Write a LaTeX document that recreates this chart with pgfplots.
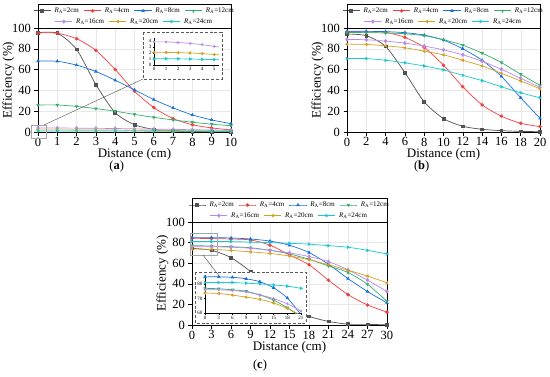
\documentclass[border=0pt]{standalone}
\usepackage{fontspec}
\setmainfont{Liberation Serif}
\usepackage{pgfplots}
\usepackage{pgfplotstable}
\pgfplotsset{compat=1.18}

\definecolor{c2}{HTML}{515151}
\definecolor{c4}{HTML}{F14040}
\definecolor{c8}{HTML}{1A6FDF}
\definecolor{c12}{HTML}{37AD6B}
\definecolor{c16}{HTML}{B98AE6}
\definecolor{c20}{HTML}{D4A020}
\definecolor{c24}{HTML}{18C8CC}

\pgfplotstableread{
x r2 r4 r8 r12 r16 r20 r24
0 95.5 95.2 68.2 26.0 3.8 2.05 1.0
1 95.0 95.0 68.0 26.0 3.8 2.05 1.0
2 79.4 89.7 64.3 24.6 3.7 2.0 0.98
3 45.6 78.5 58.2 22.5 3.55 1.95 0.95
4 18.6 60.1 49.8 20.0 3.35 1.85 0.9
5 7.0 39.2 40.5 16.9 3.05 1.7 0.85
6 2.5 23.5 31.2 14.1 2.8 1.55 0.78
7 1.0 12.9 23.2 11.6 2.5 1.4 0.7
8 0.5 7.0 16.4 9.4 2.2 1.25 0.62
9 0.3 3.9 11.6 7.5 1.9 1.1 0.55
10 0.2 2.0 8.0 6.0 1.65 0.95 0.48
}\tA

\pgfplotstableread{
x r2 r4 r8 r12 r16 r20 r24
0 94.2 96.5 96.8 95.8 89.0 84.5 70.6
2 92.6 96.2 96.8 95.5 88.7 84.2 70.6
4 82.3 95.8 96.5 95.2 87.4 82.9 69.0
6 57.1 91.0 95.5 94.5 85.5 81.0 66.5
8 29.0 81.3 93.2 92.6 82.6 77.7 63.5
10 12.9 64.2 88.4 88.7 79.0 74.2 59.7
12 5.5 43.5 80.0 83.5 74.2 69.0 54.5
14 2.6 26.1 69.0 75.8 68.0 63.5 49.4
16 1.3 15.2 53.5 66.8 60.3 56.5 43.5
18 0.6 8.4 32.9 55.5 51.6 49.0 37.7
20 0.3 5.2 13.2 44.8 42.9 41.6 32.9
}\tB

\pgfplotstableread{
x r2 r4 r8 r12 r16 r20 r24
0 74.4 84.2 84.8 77.0 76.0 73.8 81.0
3 72.5 83.9 84.8 76.7 76.0 73.5 81.0
6 65.4 83.5 84.5 76.0 75.5 72.4 81.0
9 51.8 82.6 83.5 75.0 74.5 71.0 80.5
12 33.0 77.5 81.5 72.5 72.5 69.5 80.0
15 17.0 68.0 77.4 69.0 70.0 67.0 79.3
18 8.4 58.5 70.4 63.8 66.5 63.4 78.5
21 3.5 43.5 59.0 57.3 61.5 58.5 77.0
24 0.8 29.5 45.0 51.0 53.5 53.2 75.5
27 0.6 19.5 32.5 39.5 43.5 47.5 72.5
30 0.2 12.5 21.5 23.0 32.5 41.0 69.0
}\tC

\newcommand{\RA}[1]{\textit{R}\textsubscript{A}=#1cm}

\pgfplotsset{
  ser/.style={line width=0.7pt, mark size=1.4pt, smooth, tension=0.45},
  sA/.style={ser, c2, mark=square*},
  sB/.style={ser, c4, mark=*},
  sC/.style={ser, c8, mark=triangle*},
  sD/.style={ser, c12, mark=triangle*, mark options={rotate=180}},
  sE/.style={ser, c16, mark=diamond*, mark size=1.7pt},
  sF/.style={ser, c20, mark=triangle*, mark options={rotate=90}},
  sG/.style={ser, c24, mark=triangle*, mark options={rotate=-90}},
  legsty/.style={legend style={draw=none, fill=none, inner sep=0pt,
      font=\fontsize{7}{8}\selectfont,
      /tikz/every odd column/.append style={column sep=1.5pt},
      /tikz/every even column/.append style={column sep=2.8pt}},
      legend cell align=left},
  mainax/.style={
    scale only axis, width=193pt, height=104pt,
    ymin=0, ymax=100, ytick={0,20,40,60,80,100},
    axis line style={line width=0.6pt},
    tick align=outside, tick pos=left,
    major tick length=3.5pt,
    every tick/.style={black, line width=0.6pt},
    xmajorgrids, ymajorgrids, grid style={gray!18, line width=0.4pt},
    tick label style={font=\fontsize{12.5}{12.5}\selectfont},
    xticklabel style={inner sep=2pt},
    label style={font=\fontsize{13}{13}\selectfont},
    xlabel={Distance (cm)}, ylabel={Efficiency (\%)},
    xlabel style={yshift=3pt}, ylabel style={yshift=-9pt},
    /pgf/number format/assume math mode=true,
    legsty, legend columns=4,
    legend style={at={(0.5,1.165)}, anchor=center},
  },
  legax/.style={
    scale only axis, width=193pt, height=104pt, hide axis,
    xmin=0, xmax=1, ymin=0, ymax=1, legsty, legend columns=3,
    legend style={at={(0.5,1.062)}, anchor=center},
  },
  insax/.style={
    scale only axis, axis x line=bottom, axis y line=left,
    axis line style={-, line width=0.4pt, black},
    tick align=outside, major tick length=1.5pt,
    every tick/.style={black, line width=0.3pt},
    tick label style={font=\fontsize{5}{5}\selectfont, inner sep=1pt},
    /pgf/number format/assume math mode=true,
    every axis plot/.append style={line width=0.4pt, mark size=0.8pt},
  },
}

\begin{document}
\begin{tikzpicture}
\useasboundingbox (0pt,0pt) rectangle (550pt,376pt);

% ---------------- (a) ----------------
\begin{axis}[mainax, at={(38pt,244pt)}, anchor=south west,
  xmin=0, xmax=10, xtick={0,1,...,10}]
\addplot[sA] table[x=x,y=r2]{\tA};
\addplot[sB] table[x=x,y=r4]{\tA};
\addplot[sC] table[x=x,y=r8]{\tA};
\addplot[sD] table[x=x,y=r12]{\tA};
\addplot[sE] table[x=x,y=r16]{\tA};
\addplot[sF] table[x=x,y=r20]{\tA};
\addplot[sG] table[x=x,y=r24]{\tA};
\legend{\RA{2},\RA{4},\RA{8},\RA{12}}
\end{axis}
\begin{axis}[legax, at={(38pt,244pt)}, anchor=south west]
\addlegendimage{sE}\addlegendentry{\RA{16}}
\addlegendimage{sF}\addlegendentry{\RA{20}}
\addlegendimage{sG}\addlegendentry{\RA{24}}
\end{axis}
\draw[line width=0.6pt] (38pt,348pt) rectangle (231pt,372pt);
\draw[gray!70, line width=0.4pt] (31pt,251pt) rectangle (46pt,238pt);
\draw[gray!60!black, line width=0.4pt] (44pt,251pt) -- (143pt,297pt);
\draw[gray!70!black, dash pattern=on 3pt off 1.8pt, line width=0.6pt, fill=white] (143pt,344pt) rectangle (222pt,297pt);
\begin{axis}[insax, at={(154pt,311.3pt)}, anchor=south west, width=65pt, height=27pt,
  xmin=0, xmax=5.4, ymin=0, ymax=4.5, xtick={0,...,5}, ytick={0,...,4}]
\addplot[sE, mark size=1pt] table[x=x,y=r16]{\tA};
\addplot[sF] table[x=x,y=r20]{\tA};
\addplot[sG] table[x=x,y=r24]{\tA};
\end{axis}
\node[font=\fontsize{12.5}{12.5}\selectfont] at (116.7pt,209.5pt) {(\textbf{a})};

% ---------------- (b) ----------------
\begin{axis}[mainax, at={(347pt,244pt)}, anchor=south west,
  xmin=0, xmax=20, xtick={0,2,...,20}]
\addplot[sA] table[x=x,y=r2]{\tB};
\addplot[sB] table[x=x,y=r4]{\tB};
\addplot[sC] table[x=x,y=r8]{\tB};
\addplot[sD] table[x=x,y=r12]{\tB};
\addplot[sE] table[x=x,y=r16]{\tB};
\addplot[sF] table[x=x,y=r20]{\tB};
\addplot[sG] table[x=x,y=r24]{\tB};
\legend{\RA{2},\RA{4},\RA{8},\RA{12}}
\end{axis}
\begin{axis}[legax, at={(347pt,244pt)}, anchor=south west]
\addlegendimage{sE}\addlegendentry{\RA{16}}
\addlegendimage{sF}\addlegendentry{\RA{20}}
\addlegendimage{sG}\addlegendentry{\RA{24}}
\end{axis}
\draw[line width=0.6pt] (347pt,348pt) rectangle (540pt,372pt);
\node[font=\fontsize{12.5}{12.5}\selectfont] at (421.7pt,209.5pt) {(\textbf{b})};

% ---------------- (c) ----------------
\begin{axis}[mainax, at={(192pt,51pt)}, anchor=south west, width=195pt, height=103pt,
  xmin=0, xmax=30, xtick={0,3,...,30}]
\addplot[sA] table[x=x,y=r2]{\tC};
\addplot[sB] table[x=x,y=r4]{\tC};
\addplot[sC] table[x=x,y=r8]{\tC};
\addplot[sD] table[x=x,y=r12]{\tC};
\addplot[sE] table[x=x,y=r16]{\tC};
\addplot[sF] table[x=x,y=r20]{\tC};
\addplot[sG] table[x=x,y=r24]{\tC};
\legend{\RA{2},\RA{4},\RA{8},\RA{12}}
\end{axis}
\begin{axis}[legax, at={(192pt,51pt)}, anchor=south west, width=195pt, height=103pt]
\addlegendimage{sE}\addlegendentry{\RA{16}}
\addlegendimage{sF}\addlegendentry{\RA{20}}
\addlegendimage{sG}\addlegendentry{\RA{24}}
\end{axis}
\draw[line width=0.6pt] (192pt,154pt) rectangle (387pt,178pt);
\draw[gray!70, line width=0.4pt] (190pt,142.7pt) rectangle (217.3pt,121pt);
\draw[gray!70!black, dash pattern=on 3pt off 1.8pt, line width=0.6pt, fill=white] (195pt,104pt) rectangle (306pt,53pt);
\draw[gray!60!black, line width=0.4pt] (203pt,121pt) -- (220pt,99pt);
\begin{axis}[insax, at={(205pt,62.7pt)}, anchor=south west, width=96pt, height=38.2pt,
  xmin=0, xmax=21, ymin=60, ymax=86, xtick={0,3,...,21}, ytick={60,70,80}]
\addplot[sC] table[x=x,y=r8]{\tC};
\addplot[sD] table[x=x,y=r12]{\tC};
\addplot[sE, mark size=1pt] table[x=x,y=r16]{\tC};
\addplot[sF] table[x=x,y=r20]{\tC};
\addplot[sG] table[x=x,y=r24]{\tC};
\end{axis}
\node[font=\fontsize{12.5}{12.5}\selectfont] at (260pt,11pt) {(\textbf{c})};
\end{tikzpicture}
\end{document}
